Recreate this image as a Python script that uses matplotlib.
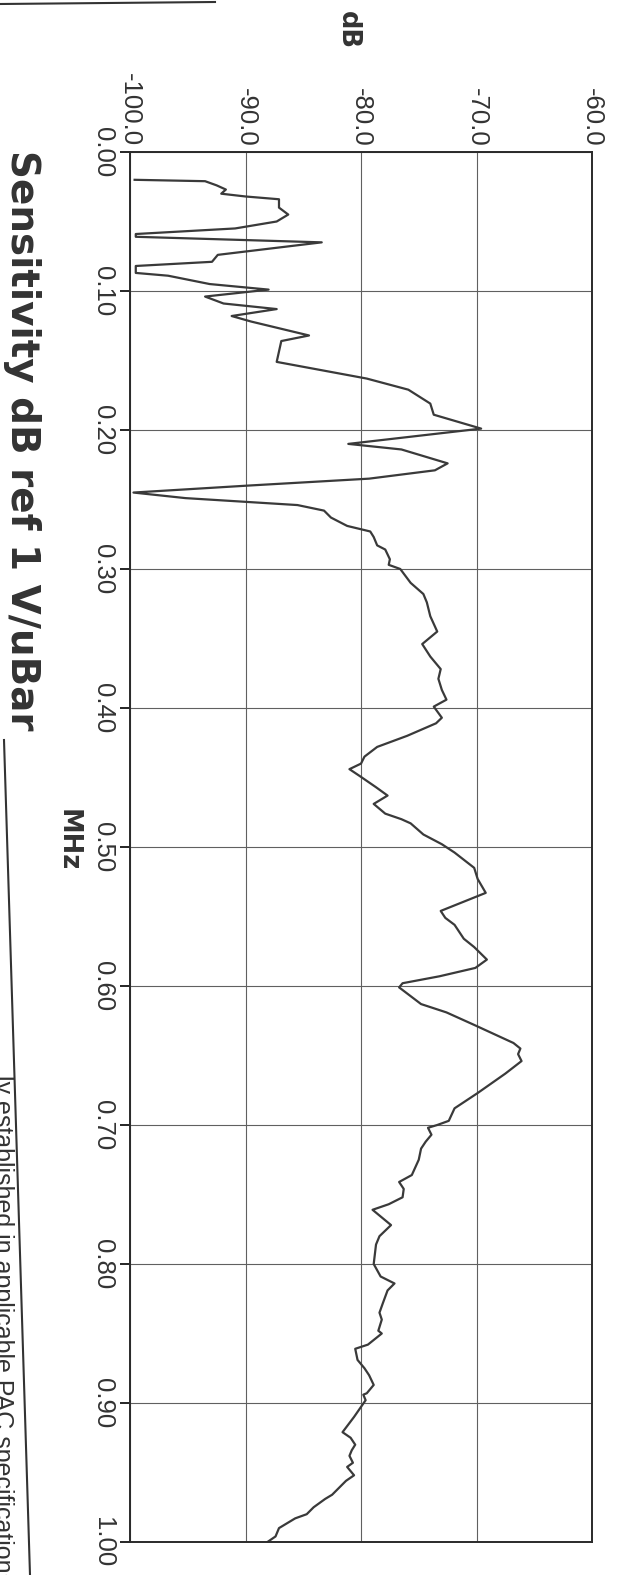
import matplotlib.pyplot as plt
from matplotlib.lines import Line2D

plt.rcParams['font.family'] = ['Liberation Sans', 'DejaVu Sans']

# sensitivity curve (MHz, dB ref 1 V/uBar)
freq_mhz = [0.020, 0.021, 0.024, 0.027, 0.030, 0.032, 0.034, 0.040, 0.045, 0.050,
            0.055, 0.059, 0.061, 0.065, 0.074, 0.079, 0.082, 0.087, 0.089, 0.095,
            0.099, 0.104, 0.109, 0.113, 0.118, 0.122, 0.132, 0.136, 0.151, 0.163,
            0.171, 0.181, 0.189, 0.199, 0.210, 0.214, 0.224, 0.229, 0.235, 0.240,
            0.245, 0.249, 0.254, 0.258, 0.263, 0.269, 0.273, 0.277, 0.283, 0.286,
            0.293, 0.297, 0.300, 0.310, 0.318, 0.324, 0.334, 0.345, 0.354, 0.363,
            0.372, 0.379, 0.387, 0.394, 0.399, 0.407, 0.411, 0.420, 0.428, 0.435,
            0.440, 0.444, 0.449, 0.457, 0.463, 0.469, 0.476, 0.480, 0.483, 0.491,
            0.498, 0.504, 0.515, 0.523, 0.533, 0.546, 0.551, 0.556, 0.566, 0.572,
            0.581, 0.587, 0.593, 0.598, 0.601, 0.613, 0.619, 0.628, 0.641, 0.645,
            0.649, 0.654, 0.663, 0.677, 0.688, 0.697, 0.700, 0.702, 0.707, 0.712,
            0.717, 0.725, 0.736, 0.741, 0.746, 0.752, 0.757, 0.761, 0.772, 0.780,
            0.786, 0.800, 0.809, 0.814, 0.819, 0.828, 0.835, 0.840, 0.848, 0.850,
            0.856, 0.858, 0.861, 0.869, 0.875, 0.880, 0.887, 0.893, 0.894, 0.898,
            0.910, 0.921, 0.925, 0.930, 0.934, 0.938, 0.943, 0.946, 0.952, 0.956,
            0.966, 0.969, 0.975, 0.980, 0.983, 0.990, 0.996, 1.000]
sens_db = [-99.6, -93.5, -92.5, -91.7, -92.1, -90.0, -87.1, -87.1, -86.3, -87.3,
           -90.9, -99.5, -99.5, -83.4, -92.4, -92.9, -99.5, -99.5, -96.7, -93.1,
           -88.0, -93.5, -91.9, -87.3, -91.2, -89.5, -84.5, -86.9, -87.3, -79.5,
           -75.9, -74.0, -73.7, -69.6, -81.1, -76.5, -72.5, -73.6, -79.3, -89.8,
           -99.7, -95.2, -85.5, -83.2, -82.6, -81.2, -79.2, -78.9, -78.6, -77.9,
           -77.5, -77.6, -76.6, -75.7, -74.6, -74.3, -74.0, -73.4, -74.7, -74.0,
           -73.1, -73.3, -73.0, -72.6, -73.7, -73.0, -73.5, -76.0, -78.6, -79.7,
           -80.0, -81.0, -80.1, -78.7, -77.7, -78.9, -77.9, -76.5, -75.7, -74.6,
           -73.0, -71.9, -70.2, -69.9, -69.2, -73.1, -72.7, -71.9, -71.1, -70.2,
           -69.1, -70.1, -73.2, -76.4, -76.7, -74.8, -72.6, -70.2, -66.8, -66.2,
           -66.4, -66.1, -67.5, -69.9, -71.9, -72.4, -73.4, -74.2, -73.9, -74.4,
           -74.8, -75.0, -75.6, -76.7, -76.3, -76.4, -77.6, -79.0, -77.4, -78.4,
           -78.7, -78.9, -78.3, -77.1, -77.7, -78.1, -78.4, -78.2, -78.5, -78.2,
           -79.1, -79.4, -80.5, -80.3, -79.7, -79.3, -78.9, -79.5, -79.8, -79.6,
           -80.6, -81.6, -80.9, -80.5, -80.8, -81.0, -80.7, -81.2, -80.6, -81.3,
           -82.5, -83.1, -84.1, -84.7, -85.7, -87.1, -87.4, -88.1]

db_ticks = [-100.0, -90.0, -80.0, -70.0, -60.0]
mhz_ticks = [0.00, 0.10, 0.20, 0.30, 0.40, 0.50, 0.60, 0.70, 0.80, 0.90, 1.00]

W, H = 633, 1575
fig = plt.figure(figsize=(W / 100, H / 100), dpi=100)

# the scanned page is turned on its side: dB runs left to right, MHz runs downwards
left, right, top, bottom = 130, 592, 152, 1542
ax = fig.add_axes([left / W, 1 - bottom / H, (right - left) / W, (bottom - top) / H])

ax.plot(sens_db, freq_mhz, color='#3a3a3a', lw=1.6)

ax.set_xlim(-100, -60)
ax.set_ylim(1.0, 0.0)
ax.set_xticks(db_ticks)
ax.set_xticklabels(['%.1f' % v for v in db_ticks])
ax.set_yticks(mhz_ticks)
ax.set_yticklabels(['%.2f' % v for v in mhz_ticks])
ax.grid(True, color='#606060', lw=0.8)

ax.xaxis.tick_top()
ax.tick_params(axis='x', length=0, pad=4, labelsize=18.5, labelrotation=-90,
               labelcolor='#333333')
ax.tick_params(axis='y', length=7, width=1.2, pad=4, labelsize=18.5, labelrotation=-90,
               labelcolor='#333333')
for lbl in ax.get_yticklabels():
    lbl.set_va('center')
for lbl in ax.get_xticklabels():
    lbl.set_ha('center')
    lbl.set_va('bottom')

for s in ax.spines.values():
    s.set_linewidth(1.4)
    s.set_color('#2a2a2a')

bold = dict(family='DejaVu Sans', fontweight='bold', color='#333333', rotation=-90)
fig.text(348 / W, 1 - 30 / H, 'dB', ha='center', va='center', fontsize=18.5, **bold)
fig.text(68 / W, 1 - 840 / H, 'MHz', ha='center', va='center', fontsize=18.5, **bold)
fig.text(22 / W, 1 - 150 / H, 'Sensitivity dB ref 1 V/uBar', ha='center', va='top',
         fontsize=28, **bold)

# half of a footnote line that the scan cuts off at the page edge
fig.text(-5 / W, 1 - 1585 / H, 'ly established in applicable PAC specifications',
         rotation=-90, rotation_mode='anchor', ha='right', va='baseline',
         fontsize=18, color='#333333')

# form border lines caught in the scan
fig.add_artist(Line2D([4 / W, 30 / W], [1 - 740 / H, 0], transform=fig.transFigure,
                      color='#333333', lw=1.5))
fig.add_artist(Line2D([0, 215 / W], [1 - 4 / H, 1 - 2 / H], transform=fig.transFigure,
                      color='#333333', lw=1.5))

fig.savefig('out.png', dpi=100, facecolor='white')
